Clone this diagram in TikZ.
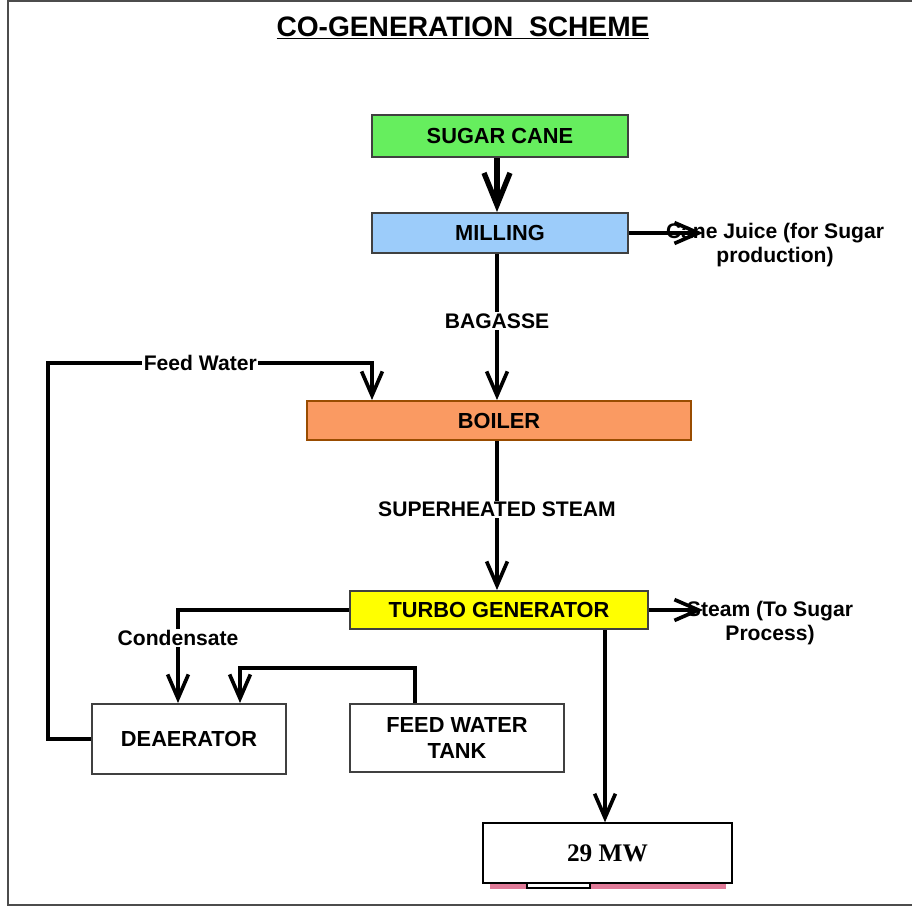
\documentclass[tikz,border=0pt]{standalone}
\usepackage{fontspec}
\setmainfont{Liberation Sans}
\newfontfamily\timesfont{Liberation Serif}
\usetikzlibrary{arrows.meta}

\definecolor{canegreen}{HTML}{66EE5E}
\definecolor{millblue}{HTML}{9CCCFA}
\definecolor{boilerorange}{HTML}{FA9A62}
\definecolor{turboyellow}{HTML}{FFFF00}
\definecolor{barpink}{HTML}{E07A98}

\tikzset{
  blk/.style={draw=black!75, line width=1.4pt, inner sep=0pt, align=center,
    font=\bfseries\fontsize{15.5}{19}\selectfont},
  flow/.style={line width=2.6pt, -{Straight Barb[length=6mm,width=5.2mm]}},
  thickflow/.style={line width=3.8pt, -{Straight Barb[length=8mm,width=6.5mm]}},
  lbl/.style={fill=white, inner sep=1pt, font=\bfseries\fontsize{15}{18}\selectfont},
  side/.style={align=center, inner sep=0pt, font=\bfseries\fontsize{15}{17}\selectfont},
}

\begin{document}
\begin{tikzpicture}[x=0.025cm,y=-0.025cm]
\useasboundingbox (0,0) rectangle (912,909);
% frame
\draw[line width=1.5pt, black!70] (912,1) -- (8,1) -- (8,905) -- (912,905);

% title
\node[font=\bfseries\fontsize{20}{24}\selectfont] (title) at (463,28) {\underline{CO-GENERATION\ \ SCHEME}};

% blocks
\node[blk, fill=canegreen, minimum width=6.4cm, minimum height=1.05cm] (cane) at (500,136) {SUGAR CANE};
\node[blk, fill=millblue, minimum width=6.4cm, minimum height=1cm] (mill) at (500,233) {MILLING};
\node[blk, fill=boilerorange, draw=orange!60!black, minimum width=9.6cm, minimum height=0.975cm] (boiler) at (499,420.5) {BOILER};
\node[blk, fill=turboyellow, minimum width=7.45cm, minimum height=0.95cm] (turbo) at (499,610) {TURBO GENERATOR};
\node[blk, fill=white, minimum width=4.85cm, minimum height=1.75cm] (deaer) at (189,739) {DEAERATOR};
\node[blk, fill=white, minimum width=5.35cm, minimum height=1.7cm] (tank) at (457,738) {FEED WATER\\TANK};

% output block
\fill[barpink] (490,880) rectangle (726,889);
\draw[line width=1pt, fill=white] (527,880) rectangle (590,888);
\node[draw=black, line width=1pt, fill=white, minimum width=6.225cm, minimum height=1.5cm,
  font=\timesfont\bfseries\fontsize{18}{22}\selectfont] (mw) at (607.5,853) {29 MW};

% side outputs
\node[side] (juice) at (775,245) {Cane Juice (for Sugar\\production)};
\node[side] (steam) at (770,623) {Steam (To Sugar\\Process)};

% connectors
\draw[thickflow] (497,0 |- cane.south) -- (497,0 |- mill.north);
\draw[flow] (mill.east) -- ++(74,0);
\draw[flow] (497,0 |- mill.south) -- node[lbl, pos=0.46] (bagasse) {BAGASSE} (497,0 |- boiler.north);
\draw[flow] (deaer.west) -- (48,0 |- deaer.west) -- (48,363)
  -- node[lbl, pos=0.47] (feedw) {Feed Water} (372,363) -- (372,0 |- boiler.north);
\draw[flow] (497,0 |- boiler.south) -- node[lbl, pos=0.46] (shsteam) {SUPERHEATED STEAM} (497,0 |- turbo.north);
\draw[flow] (turbo.east) -- ++(54,0);
\draw[flow] (turbo.west) -- (178,0 |- turbo.west)
  -- node[lbl, pos=0.3] (cond) {Condensate} (178,0 |- deaer.north);
\draw[flow] (415,0 |- tank.north) -- (415,668) -- (240,668) -- (240,0 |- deaer.north);
\draw[flow] (605,0 |- turbo.south) -- (605,0 |- mw.north);
\end{tikzpicture}
\end{document}
